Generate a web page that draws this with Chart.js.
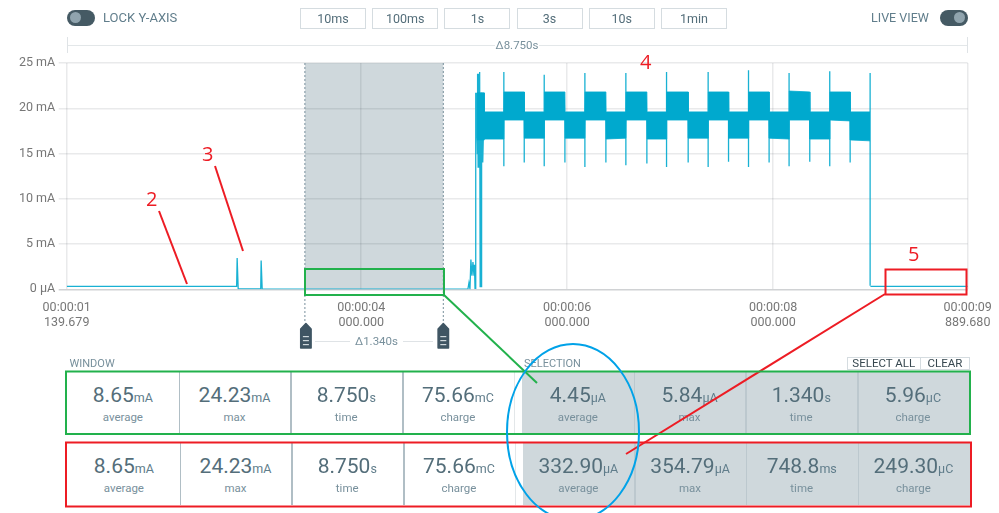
<!DOCTYPE html>
<html><head><meta charset="utf-8">
<script src="https://cdn.jsdelivr.net/npm/chart.js@4/dist/chart.umd.js"></script>
<style>
html,body{margin:0;padding:0;background:#fff;width:999px;height:513px;overflow:hidden;font-family:Roboto,sans-serif}
#wrap{position:relative;width:999px;height:513px;overflow:hidden}
#cv{position:absolute;left:0;top:0}
.abs{position:absolute}
.tx{color:#607d8b;font-size:13px;white-space:nowrap}
.btn{position:absolute;top:8px;height:19px;width:64px;border:1px solid #d5dce0;box-sizing:content-box;text-align:center;line-height:19px;font-size:12.5px;color:#546e7a;background:#fff}
.tog{position:absolute;width:28px;height:16px;border-radius:8px;background:#455a64}
.tog i{position:absolute;width:11px;height:11px;border-radius:50%;background:#90a4ae;top:2.5px}
.cell{position:absolute;text-align:center;color:#546e7a}
.val{position:absolute;left:0;right:0;top:10px;font-size:21px;line-height:26px;white-space:nowrap}
.val small{font-size:12.5px;color:#607d8b}
.lab{position:absolute;left:0;right:0;top:37px;font-size:11.5px;line-height:16px;color:#78909c}
.sep{position:absolute;width:1.5px;background:#b0bec5}
svg{position:absolute;left:0;top:0;pointer-events:none}
</style></head><body>
<div id="wrap">
<canvas id="cv" width="999" height="360"></canvas>
<div id="ui"></div>
<svg width="999" height="513" viewBox="0 0 999 513">
<g fill="none" stroke="#ed1c24" stroke-width="2">
<line x1="159" y1="211" x2="187" y2="284"/><line x1="215" y1="166" x2="243" y2="251"/>
<rect x="885.5" y="269.5" width="81" height="25"/><line x1="885" y1="294" x2="626" y2="454"/>
<rect x="66" y="442.5" width="905" height="64"/></g>
<g fill="none" stroke="#22b14c" stroke-width="2">
<rect x="305" y="269" width="139" height="26"/><line x1="444" y1="295" x2="537" y2="383"/>
<rect x="66" y="371.5" width="904" height="62.5"/></g>
<ellipse cx="573" cy="432" rx="66" ry="88" fill="none" stroke="#00a2e8" stroke-width="2"/>
<g fill="#ed1c24" font-family="Open Sans" font-size="20"><text x="146" y="206">2</text><text x="202" y="161">3</text><text x="640" y="69">4</text><text x="908" y="261">5</text></g>
</svg>
</div>
<script>
// x axis runs in seconds, y axis in mA
const axisStart = 1.139679, axisEnd = 9.88968;
const xTickValues = [1.139679, 4, 6, 8, 9.88968];
const xTickTop = ['00:00:01','00:00:04','00:00:06','00:00:08','00:00:09'];
const xTickBottom = ['139.679','000.000','000.000','000.000','889.680'];
const yTickValues = [0,5,10,15,20,25];
const selectionStart = 3.453, selectionEnd = 4.797;

// single-line part of the trace, read point by point
const traceTimes = [1.14,2.79,2.795,2.805,3.024,3.028,3.038,5.036,5.046,5.056,5.065,5.075,5.085,5.095,5.10,5.105,5.11,5.112,5.114,5.12,5.128,5.13,5.135,5.14,5.145,5.15,5.155,5.16,5.165,5.169,5.18,5.19,5.2,8.945,9.89];
const traceValues = [0.33,0.33,3.46,0.05,0.05,3.17,0.02,0.02,0.7,0.05,3.3,1.5,3.0,1.5,2.7,0.1,1.3,21.7,16,21.7,15,23.8,13.5,23.8,14,24,0.3,20,0.3,21.7,14,19,null,0.33,0.33];

// narrow spikes at the block edges of the waveform
const spikeTimes = [5.385,5.583,5.777,5.978,6.172,6.376,6.57,6.774,6.965,7.175,7.369,7.567,7.761,7.961,8.155,8.356,8.55,8.748,8.942];
const spikeHigh = [24.0,19,23.7,19,23.9,19,23.9,19,24.0,19,24.0,19,24.2,19,23.9,19,24.1,19,23.9];
const spikeLow = [13.6,14.0,13.6,14.0,13.5,14.0,13.7,13.9,13.5,14.0,13.5,14.1,13.5,14.0,13.6,14.1,13.6,14.0,0.4];

// dense current band: upper and lower edge of the waveform
const bandTimes = [5.125,5.194,5.196,5.385,5.387,5.583,5.585,5.777,5.779,5.978,5.98,6.172,6.174,6.376,6.378,6.57,6.572,6.774,6.776,6.965,6.967,7.175,7.177,7.369,7.371,7.567,7.569,7.761,7.763,7.961,7.963,8.155,8.157,8.356,8.358,8.55,8.552,8.748,8.75,8.942];
const bandTop = [21.7,21.7,19.6,19.6,21.8,21.8,19.6,19.6,21.8,21.8,19.6,19.6,21.8,21.8,19.6,19.6,21.8,21.8,19.6,19.6,21.8,21.8,19.6,19.6,21.8,21.8,19.6,19.6,21.8,21.8,19.6,19.6,21.9,21.8,19.6,19.6,21.8,21.8,19.6,19.6];
const bandBottom = [16.5,16.5,16.6,16.6,18.7,18.7,16.7,16.7,18.7,18.7,16.7,16.7,18.7,18.7,16.6,16.7,18.7,18.7,16.6,16.6,18.7,18.7,16.7,16.7,18.7,18.7,16.7,16.7,18.7,18.7,16.7,16.6,18.7,18.7,16.6,16.6,18.7,18.6,16.5,16.4];

// pale streaks where the waveform opens up and the band is not solid
const streakTimes = [5.24,5.30,5.37,5.43,8.46,8.48,8.51,8.53,8.56,8.58,8.60,8.63,8.65,8.68,8.71,8.73,8.76,8.79,8.81,8.84,8.87,8.89,8.92];
const streakHigh = [19.4,19.4,19.4,21.6,19.4,19.4,19.4,19.4,21.6,21.6,21.6,21.6,21.6,21.6,21.6,21.6,19.4,19.4,19.4,19.4,19.4,19.4,19.4];
const streakLow = [16.9,16.9,16.9,18.9,16.9,16.9,16.9,16.9,18.9,18.9,18.9,18.9,18.9,18.9,18.9,18.9,16.9,16.9,16.9,16.9,16.9,16.9,16.9];

// page texts
const rangeButtons = ['10ms','100ms','1s','3s','10s','1min'];
const statNames = ['average','max','time','charge'];
const rowWindow = [['8.65','mA'],['24.23','mA'],['8.750','s'],['75.66','mC']];
const rowSelectionA = [['4.45','µA'],['5.84','µA'],['1.340','s'],['5.96','µC']];
const rowSelectionB = [['332.90','µA'],['354.79','µA'],['748.8','ms'],['249.30','µC']];

const pts = (xs, ys) => xs.map((x, i) => ({x, y: ys[i]}));
const vLines = (xs, hi, lo) => xs.flatMap((x, i) => [{x, y: hi[i]}, {x, y: lo[i]}, {x, y: null}]);
const blue = '#00a9ce', traceBlue = '#18b1d3';
const selectionPlugin = {
  id: 'selection',
  beforeDraw(c) {
    const {ctx, chartArea: a, scales: {x}} = c;
    ctx.save(); ctx.fillStyle = '#cfd8dc';
    ctx.fillRect(x.getPixelForValue(selectionStart), a.top, x.getPixelForValue(selectionEnd) - x.getPixelForValue(selectionStart), a.bottom - a.top);
    ctx.restore();
  },
  afterDraw(c) {
    const {ctx, chartArea: a, scales: {x}} = c;
    ctx.save();
    for (const t of [selectionStart, selectionEnd]) {
      const p = x.getPixelForValue(t);
      ctx.strokeStyle = '#78909c'; ctx.lineWidth = 1; ctx.setLineDash([2, 2]);
      ctx.beginPath(); ctx.moveTo(p, a.top); ctx.lineTo(p, 323); ctx.stroke();
      ctx.setLineDash([]);
      const hx = p + (t === selectionStart ? 1 : 0);
      ctx.fillStyle = '#3f5563'; ctx.strokeStyle = '#3f5563'; ctx.lineWidth = 1.5; ctx.lineJoin = 'round';
      ctx.beginPath(); ctx.moveTo(hx, 323.5); ctx.lineTo(hx + 5.2, 329); ctx.lineTo(hx + 5.2, 348); ctx.lineTo(hx - 5.2, 348); ctx.lineTo(hx - 5.2, 329); ctx.closePath(); ctx.fill(); ctx.stroke();
      ctx.fillStyle = '#cfd8dc';
      for (const y of [336, 340, 344]) ctx.fillRect(hx - 3, y, 6, 1.2);
    }
    ctx.restore();
  }
};
new Chart(document.getElementById('cv'), {
  type: 'line',
  plugins: [selectionPlugin],
  data: { datasets: [
    {data: pts(bandTimes, bandTop), borderColor: blue, borderWidth: 0.8, backgroundColor: blue, fill: '+1', pointRadius: 0, tension: 0},
    {data: pts(bandTimes, bandBottom), borderColor: blue, borderWidth: 0.8, pointRadius: 0, fill: false, tension: 0},
    {data: vLines(spikeTimes, spikeHigh, spikeLow), borderColor: traceBlue, borderWidth: 1.3, pointRadius: 0, fill: false, tension: 0},
    {data: pts(traceTimes, traceValues), borderColor: traceBlue, borderWidth: 1.3, pointRadius: 0, fill: false, tension: 0},
    {data: vLines(streakTimes, streakHigh, streakLow), borderColor: 'rgba(255,255,255,.4)', borderWidth: 1, pointRadius: 0, fill: false, tension: 0}
  ]},
  options: {
    responsive: false, animation: false, events: [],
    layout: {padding: {left: 0, right: 31.3, top: 63, bottom: 0}},
    plugins: {legend: {display: false}, tooltip: {enabled: false}, title: {display: false}},
    scales: {
      x: {
        type: 'linear', min: axisStart, max: axisEnd,
        afterBuildTicks(s) { s.ticks = xTickValues.map(value => ({value})); },
        afterFit(s) { s.height = 70.7; s.paddingLeft = 0; s.paddingRight = 0; },
        grid: {color: 'rgba(40,50,60,.10)', lineWidth: 1.5, drawTicks: false},
        border: {display: false},
        ticks: {autoSkip: false, maxRotation: 0, padding: 11, color: '#777', font: {family: 'Roboto', size: 12.5, lineHeight: 1.2},
          callback(v) { const i = xTickValues.indexOf(v); return [xTickTop[i], xTickBottom[i]]; }}
      },
      y: {
        min: 0, max: 25,
        afterBuildTicks(s) { s.ticks = yTickValues.map(value => ({value})); },
        afterFit(s) { s.width = 66.7; },
        grid: {color: c => c.tick.value === 0 ? 'rgba(40,50,60,.22)' : 'rgba(40,50,60,.10)', lineWidth: 1.5, tickLength: 8},
        border: {display: false},
        ticks: {padding: 3.5, color: '#777', font: {family: 'Roboto', size: 12.5},
          callback(v) { return v === 0 ? '0 µA' : v + ' mA'; }}
      }
    }
  }
});

// page furniture around the chart
const ui = document.getElementById('ui');
const el = (cls, css, html) => { const d = document.createElement('div'); d.className = cls; d.style.cssText = css; if (html !== undefined) d.innerHTML = html; ui.appendChild(d); return d; };
el('tog', 'left:67px;top:9.5px', '<i style="left:3px"></i>');
el('abs tx', 'left:103px;top:10px', 'LOCK Y-AXIS');
rangeButtons.forEach((b, i) => el('btn', 'left:' + (300 + i * 72.2) + 'px', b));
el('abs tx', 'left:871px;top:10px;font-size:12.5px', 'LIVE VIEW');
el('tog', 'left:939.5px;top:9.5px', '<i style="left:14px"></i>');
el('abs', 'left:67px;top:44.5px;width:428px;height:1.5px;background:#e3e7e9');
el('abs', 'left:539px;top:44.5px;width:428px;height:1.5px;background:#e3e7e9');
el('abs', 'left:66.5px;top:37px;width:1px;height:16px;background:#dfe3e6');
el('abs', 'left:967px;top:37px;width:1px;height:16px;background:#dfe3e6');
el('abs tx', 'left:495px;top:38px;width:44px;text-align:center;font-size:11.5px;color:#78909c', 'Δ8.750s');
el('abs', 'left:315px;top:341px;width:35px;height:1px;background:#dfe3e6');
el('abs', 'left:403px;top:341px;width:30px;height:1px;background:#dfe3e6');
el('abs tx', 'left:350px;top:334px;width:53px;text-align:center;font-size:11.5px;color:#78909c', 'Δ1.340s');
el('abs tx', 'left:69.5px;top:357px;font-size:11px;color:#78909c', 'WINDOW');
el('abs tx', 'left:524px;top:357px;font-size:11px;color:#78909c', 'SELECTION');
el('abs', 'left:846.5px;top:356.5px;width:72.5px;height:11px;border:1px solid #d5dce0;text-align:center;font-size:11.5px;line-height:11px;color:#37474f;white-space:nowrap', 'SELECT ALL');
el('abs', 'left:920px;top:356.5px;width:48px;height:11px;border:1px solid #d5dce0;text-align:center;font-size:11.5px;line-height:11px;color:#37474f', 'CLEAR');
function statRow(top, h, off, vals, selected) {
  const x0 = selected ? 522 + off : 67 + off, w = 111.7;
  if (selected) el('abs', 'left:' + x0 + 'px;top:' + top + 'px;width:448px;height:' + h + 'px;background:#cfd8dc');
  vals.forEach((v, i) => {
    const left = x0 + i * w;
    el('cell', 'left:' + left + 'px;top:' + top + 'px;width:' + w + 'px;height:' + h + 'px',
      '<div class="val">' + v[0] + '<small>' + v[1] + '</small></div><div class="lab">' + statNames[i] + '</div>');
    if (i) el('sep', 'left:' + left + 'px;top:' + top + 'px;height:' + h + 'px;' + (selected ? 'background:#bcc8ce' : ''));
  });
}
statRow(372, 61, 0, rowWindow, false);
statRow(372, 61, 0, rowSelectionA, true);
statRow(443, 62, 1, rowWindow, false);
statRow(443, 62, 0.5, rowSelectionB, true);
el('abs', 'left:514px;top:372px;width:1px;height:61px;background:#e3e7e9');
el('abs', 'left:515px;top:443px;width:1px;height:62px;background:#e3e7e9');
</script>
</body></html>
